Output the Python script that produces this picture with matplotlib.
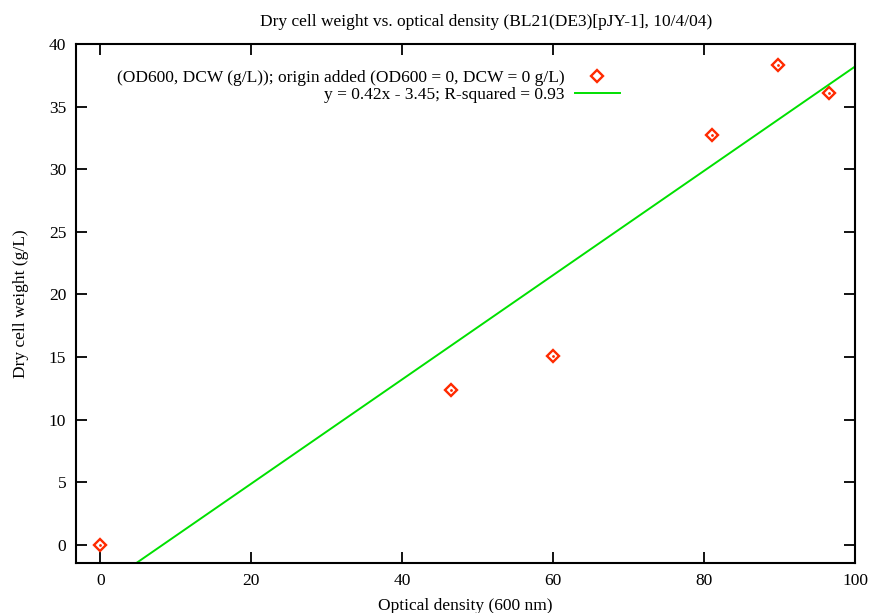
"""Dry cell weight vs optical density, gnuplot-style scatter with linear fit
"""
import numpy as np
from matplotlib import pyplot as plt

od600 = [0.0, 46.5, 60.0, 81.0, 89.8, 96.6]
dcw = [0.0, 12.4, 15.1, 32.7, 38.3, 36.1]
fit_slope = 0.4165
fit_intercept = -3.45
x_ticks = [0, 20, 40, 60, 80, 100]
y_ticks = [0, 5, 10, 15, 20, 25, 30, 35, 40]

plt.rcParams['font.family'] = ['Liberation Serif', 'DejaVu Serif']
FS = 12.5

fig = plt.figure(figsize=(8.73, 6.13), dpi=100)
ax = fig.add_axes([0.0871, 0.0816, 0.8923, 0.8466])

red = '#ff2a00'
pts, = ax.plot(od600, dcw, linestyle='none', marker='D', markersize=6,
               markerfacecolor='none', markeredgecolor=red, markeredgewidth=1.7,
               label='(OD600, DCW (g/L)); origin added (OD600 = 0, DCW = 0 g/L)')
ax.plot(od600, dcw, linestyle='none', marker='.', markersize=2, color=red)

x_fit = np.linspace(-5, 105, 200)
line, = ax.plot(x_fit, fit_slope * x_fit + fit_intercept, color='#00e000', lw=1.4,
                label='y = 0.42x - 3.45; R-squared = 0.93')

ax.set_xlim(-3.2, 100)
ax.set_ylim(-1.45, 40)
ax.set_xticks(x_ticks)
ax.set_yticks(y_ticks)
ax.tick_params(direction='in', length=8, width=1.3, top=True, right=True,
               labelsize=FS, pad=7)
for spine in ax.spines.values():
    spine.set_linewidth(1.5)

ax.set_title('Dry cell weight vs. optical density (BL21(DE3)[pJY-1], 10/4/04)',
             fontsize=FS, pad=13, x=0.527)
ax.set_xlabel('Optical density (600 nm)', fontsize=FS, labelpad=7)
ax.set_ylabel('Dry cell weight (g/L)', fontsize=FS, labelpad=14)

ax.legend(handles=[pts, line], loc='upper right', bbox_to_anchor=(0.707, 0.963),
          frameon=False, markerfirst=False, handlelength=2.6, handletextpad=0.6,
          labelspacing=0.05, fontsize=FS, alignment='right', borderaxespad=0)

plt.savefig('out.png', dpi=100)
